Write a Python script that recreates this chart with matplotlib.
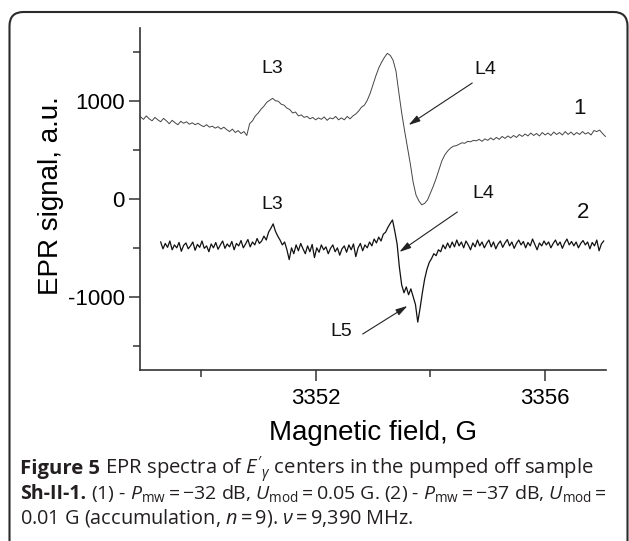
import numpy as np
import matplotlib
matplotlib.use('Agg')
import matplotlib.pyplot as plt
from matplotlib.ticker import MultipleLocator
from matplotlib.patches import FancyBboxPatch
from matplotlib.transforms import IdentityTransform

plt.rcParams['font.family'] = ['Liberation Sans', 'DejaVu Sans']
plt.rcParams['axes.unicode_minus'] = False
plt.rcParams['mathtext.fontset'] = 'custom'
plt.rcParams['mathtext.rm'] = 'Open Sans'
plt.rcParams['mathtext.it'] = 'Open Sans:italic'
plt.rcParams['mathtext.bf'] = 'Open Sans:bold'

# spectrum 1 (Pmw = -32 dB), field grid start / step in G
field1_start = 3348.95
field1_step = 0.05
signal1 = [
    840, 815, 850, 820, 800, 835, 810, 790, 825, 800,
    770, 805, 780, 760, 795, 775, 790, 765, 780, 760,
    775, 755, 740, 760, 735, 745, 725, 740, 715, 735,
    710, 690, 715, 680, 700, 670, 690, 650, 770, 800,
    850, 880, 920, 950, 990, 1010, 1030, 1005, 1000, 970,
    960, 930, 915, 880, 890, 850, 860, 835, 845, 820,
    835, 810, 830, 815, 840, 805, 830, 820, 845, 810,
    830, 810, 845, 820, 850, 870, 900, 940, 960, 1010,
    1080, 1170, 1260, 1340, 1400, 1450, 1490, 1470, 1420, 1310,
    1090, 880, 700, 530, 360, 170, 40, -20, -60, -45,
    -10, 60, 130, 210, 300, 390, 450, 490, 520, 540,
    545, 560, 575, 570, 590, 585, 600, 595, 610, 590,
    615, 600, 625, 605, 630, 610, 640, 620, 645, 625,
    650, 630, 660, 640, 665, 645, 675, 650, 670, 645,
    680, 655, 675, 650, 685, 660, 680, 655, 690, 660,
    685, 655, 680, 660, 690, 665, 680, 655, 700, 690,
    705, 670, 640,
]

# spectrum 2 (Pmw = -37 dB, accumulated)
field2_start = 3349.30
field2_step = 0.04
signal2 = [
    -440, -510, -455, -495, -430, -520, -470, -500, -445, -535,
    -475, -450, -510, -480, -440, -525, -465, -495, -430, -505,
    -480, -540, -460, -500, -445, -515, -470, -430, -505, -460,
    -490, -435, -520, -455, -480, -425, -500, -460, -415, -490,
    -440, -470, -405, -455, -430, -380, -420, -340, -300, -255,
    -330, -380, -420, -470, -440, -520, -620, -500, -560, -470,
    -530, -455, -510, -560, -480, -540, -465, -600, -500, -545,
    -470, -520, -490, -560, -505, -470, -540, -500, -575, -510,
    -480, -545, -470, -520, -460, -590, -500, -455, -530, -470,
    -500, -440, -480, -410, -450, -390, -430, -360, -340, -290,
    -250, -215, -330, -460, -700, -880, -960, -900, -980, -920,
    -1000, -1080, -1260, -1120, -960, -820, -720, -650, -610, -560,
    -580, -520, -540, -470, -510, -450, -500, -440, -490, -420,
    -480, -440, -500, -430, -470, -520, -450, -490, -420, -480,
    -440, -500, -455, -420, -490, -440, -510, -460, -430, -495,
    -450, -415, -480, -440, -505, -455, -420, -470, -435, -500,
    -445, -480, -410, -465, -520, -450, -480, -430, -470, -440,
    -500, -455, -420, -475, -440, -505, -450, -410, -470, -435,
    -480, -440, -500, -455, -425, -470, -440, -510, -445, -480,
    -420, -530, -460, -430,
]

# peak labels: (text, x, y)
labels = [('L3', 3351.25, 1340), ('L4', 3354.95, 1320),
          ('L3', 3351.25, -55), ('L4', 3354.92, 60), ('L5', 3352.45, -1360),
          ('1', 3356.6, 930), ('2', 3356.66, -140)]
# arrows: (tail x, tail y, head x, head y)
arrows = [(3354.73, 1187, 3353.62, 757),
          (3354.47, -133, 3353.46, -542),
          (3352.82, -1382, 3353.6, -1095)]

field1 = field1_start + field1_step * np.arange(len(signal1))
field2 = field2_start + field2_step * np.arange(len(signal2))

fig = plt.figure(figsize=(6.29, 5.41), dpi=100)
ax = fig.add_axes([0.2226, 0.3161, 0.7408, 0.6322])

ax.plot(field1, signal1, color='#444444', lw=0.7)
ax.plot(field2, signal2, color='#111111', lw=0.9)

for t, x, y in labels:
    fs = 16 if t in ('1', '2') else 14
    ax.text(x, y, t, fontsize=fs, ha='center', va='center', color='#111111')
for x0, y0, x1, y1 in arrows:
    ax.annotate('', xy=(x1, y1), xytext=(x0, y0),
                arrowprops=dict(arrowstyle='-|>,head_length=0.7,head_width=0.2',
                                color='#222222', lw=0.8, shrinkA=0, shrinkB=0))

ax.set_xlim(3348.94, 3357.06)
ax.set_ylim(-1750, 1750)
ax.xaxis.set_major_locator(MultipleLocator(4))
ax.xaxis.set_minor_locator(MultipleLocator(2))
ax.yaxis.set_major_locator(MultipleLocator(1000))
ax.yaxis.set_minor_locator(MultipleLocator(500))
for s in ['top', 'right']:
    ax.spines[s].set_visible(False)
for s in ['left', 'bottom']:
    ax.spines[s].set_linewidth(1.2)
    ax.spines[s].set_color('#333333')
ax.tick_params(which='major', length=8, width=1.1, color='#333333', labelsize=16, pad=3)
ax.tick_params(which='minor', length=5, width=1.1, color='#333333')
ax.tick_params(axis='x', pad=5)
ax.set_xlabel('Magnetic field, G', fontsize=20)
ax.set_ylabel('EPR signal, a.u.', fontsize=20)
ax.xaxis.set_label_coords(0.5, -0.145)
ax.yaxis.set_label_coords(-0.163, 0.51)

# rounded frame around the figure panel
frame = FancyBboxPatch((9.5, -40), 618, 569, boxstyle='round,pad=0,rounding_size=14',
                       transform=IdentityTransform(), fill=False, lw=1.5, ec='#2a2a2a')
fig.add_artist(frame)

# caption
cap_font = ['Open Sans', 'DejaVu Sans']
th = '\u2009'
mn = '\u2212'
lines = [
    [('Figure 5', 'bold'), (r" EPR spectra of $E'_{\gamma}$ centers in the pumped off sample", 'normal')],
    [('Sh-II-1.', 'bold'),
     (" (1) - $P_{\\rm mw}$" + th + "=" + th + mn + "32 dB, $U_{\\rm mod}$" + th + "=" + th
      + "0.05 G. (2) - $P_{\\rm mw}$" + th + "=" + th + mn + "37 dB, $U_{\\rm mod}$" + th + "=", 'normal')],
    [("0.01 G (accumulation, $n$" + th + "=" + th + "9). $\\nu$" + th + "=" + th + "9,390 MHz.", 'normal')],
]
line_y = [469, 494, 518]
line_size = [14.6, 14.0, 14.3]
renderer = fig.canvas.get_renderer()
for pieces, ypx, fs in zip(lines, line_y, line_size):
    xpx = 20
    for s, w in pieces:
        t = fig.text(xpx / 629, 1 - ypx / 541, s, fontsize=fs, fontweight=w,
                     family=cap_font, va='center', ha='left', color='#231f20')
        xpx += t.get_window_extent(renderer).width

fig.savefig('out.png', dpi=100)
